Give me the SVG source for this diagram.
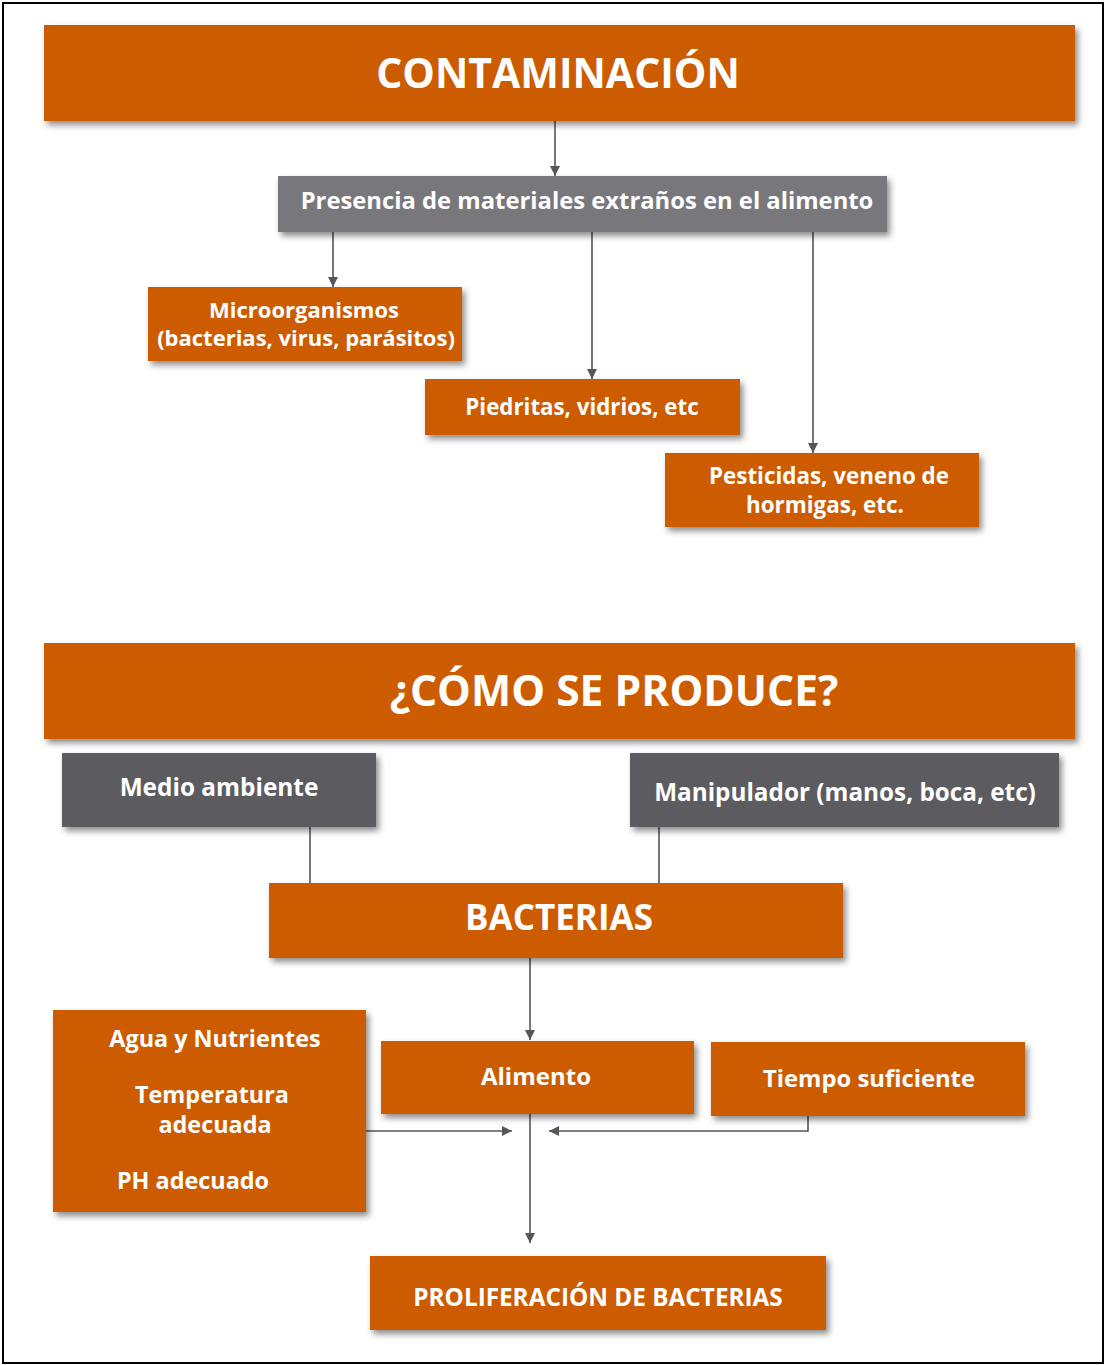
<svg xmlns="http://www.w3.org/2000/svg" width="1106" height="1365" viewBox="0 0 1106 1365">
<defs>
<filter id="sh" x="-10%" y="-20%" width="125%" height="150%">
<feDropShadow dx="3" dy="4" stdDeviation="3" flood-color="#000" flood-opacity="0.45"/>
</filter>
<marker id="ah" viewBox="0 0 10 10" refX="10" refY="5" markerWidth="10" markerHeight="10" markerUnits="userSpaceOnUse" orient="auto">
<path d="M0,0 L10,5 L0,10 z" fill="#55565b"/>
</marker>
<style>
.or{fill:#cd5c00;filter:url(#sh)}
.g1{fill:#78777c;filter:url(#sh)}
.g2{fill:#5c5b60;filter:url(#sh)}
text{font-family:"Open Sans","Liberation Sans",sans-serif;font-weight:700;fill:#fff;text-anchor:middle}
.c{fill:none;stroke:#55565b;stroke-width:1.6}
</style>
</defs>
<rect x="0" y="0" width="1106" height="1365" fill="#fff"/>
<rect x="3" y="3" width="1100" height="1360" fill="none" stroke="#000" stroke-width="2"/>

<g id="connectors">
<line class="c" x1="555" y1="121" x2="555" y2="176" marker-end="url(#ah)"/>
<line class="c" x1="333" y1="232" x2="333" y2="287" marker-end="url(#ah)"/>
<line class="c" x1="592" y1="232" x2="592" y2="379" marker-end="url(#ah)"/>
<line class="c" x1="813" y1="232" x2="813" y2="453" marker-end="url(#ah)"/>
<line class="c" x1="310" y1="827" x2="310" y2="887"/>
<line class="c" x1="659" y1="827" x2="659" y2="883"/>
<line class="c" x1="530" y1="958" x2="530" y2="1040" marker-end="url(#ah)"/>
<line class="c" x1="366" y1="1131" x2="512" y2="1131" marker-end="url(#ah)"/>
<polyline class="c" points="808,1116 808,1131 549,1131" marker-end="url(#ah)"/>
<line class="c" x1="530" y1="1114" x2="530" y2="1243" marker-end="url(#ah)"/>
</g>

<g id="contaminacion">
<rect class="or" x="44" y="25" width="1031" height="96"/>
<text x="558" y="88" font-size="41">CONTAMINACIÓN</text>
</g>
<g id="presencia">
<rect class="g1" x="278" y="176" width="609" height="56"/>
<text x="587" y="209" font-size="23.8">Presencia de materiales extraños en el alimento</text>
</g>
<g id="microorganismos">
<rect class="or" x="148" y="287" width="314" height="74"/>
<text x="304" y="318" font-size="22">Microorganismos</text>
<text x="306" y="346" font-size="22">(bacterias, virus, parásitos)</text>
</g>
<g id="piedritas">
<rect class="or" x="425" y="379" width="315" height="56"/>
<text x="582" y="415" font-size="22.3">Piedritas, vidrios, etc</text>
</g>
<g id="pesticidas">
<rect class="or" x="665" y="453" width="314" height="74"/>
<text x="829" y="484" font-size="22.4">Pesticidas, veneno de</text>
<text x="825" y="513" font-size="22.4">hormigas, etc.</text>
</g>
<g id="como">
<rect class="or" x="44" y="643" width="1031" height="96"/>
<text x="614" y="706" font-size="42.6">¿CÓMO SE PRODUCE?</text>
</g>
<g id="medio">
<rect class="g2" x="62" y="753" width="314" height="74"/>
<text x="219" y="796" font-size="24.4">Medio ambiente</text>
</g>
<g id="manipulador">
<rect class="g2" x="630" y="753" width="429" height="74"/>
<text x="845" y="801" font-size="24.3">Manipulador (manos, boca, etc)</text>
</g>
<g id="bacterias">
<rect class="or" x="269" y="883" width="574" height="75"/>
<text x="559" y="930" font-size="35">BACTERIAS</text>
</g>
<g id="agua">
<rect class="or" x="53" y="1010" width="313" height="202"/>
<text x="215" y="1047" font-size="23.4">Agua y Nutrientes</text>
<text x="212" y="1103" font-size="23.4">Temperatura</text>
<text x="215" y="1133" font-size="23.4">adecuada</text>
<text x="193" y="1189" font-size="23.4">PH adecuado</text>
</g>
<g id="alimento">
<rect class="or" x="381" y="1041" width="313" height="73"/>
<text x="536" y="1085" font-size="24">Alimento</text>
</g>
<g id="tiempo">
<rect class="or" x="711" y="1042" width="314" height="74"/>
<text x="869" y="1087" font-size="23.8">Tiempo suficiente</text>
</g>
<g id="proliferacion">
<rect class="or" x="370" y="1256" width="456" height="74"/>
<text x="598" y="1306" font-size="24.3">PROLIFERACIÓN DE BACTERIAS</text>
</g>
</svg>
